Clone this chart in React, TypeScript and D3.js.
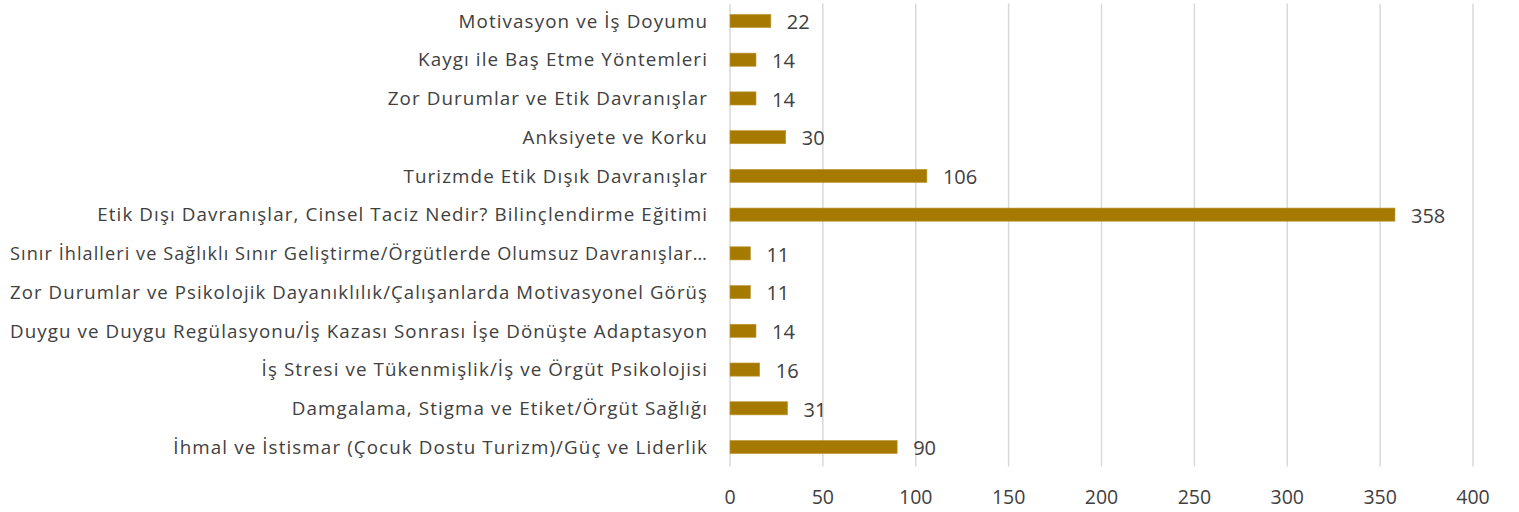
import React, { useLayoutEffect, useRef } from "react";
import * as d3 from "d3";

const categories: string[] = [
  "Motivasyon ve İş Doyumu",
  "Kaygı ile Baş Etme Yöntemleri",
  "Zor Durumlar ve Etik Davranışlar",
  "Anksiyete ve Korku",
  "Turizmde Etik Dışık Davranışlar",
  "Etik Dışı Davranışlar, Cinsel Taciz Nedir? Bilinçlendirme Eğitimi",
  "Sınır İhlalleri ve Sağlıklı Sınır Geliştirme/Örgütlerde Olumsuz Davranışlar…",
  "Zor Durumlar ve Psikolojik Dayanıklılık/Çalışanlarda Motivasyonel Görüş",
  "Duygu ve Duygu Regülasyonu/İş Kazası Sonrası İşe Dönüşte Adaptasyon",
  "İş Stresi ve Tükenmişlik/İş ve Örgüt Psikolojisi",
  "Damgalama, Stigma ve Etiket/Örgüt Sağlığı ",
  "İhmal ve İstismar (Çocuk Dostu Turizm)/Güç ve Liderlik",
];
const values: number[] = [22, 14, 14, 30, 106, 358, 11, 11, 14, 16, 31, 90];
const xTicks: number[] = [0, 50, 100, 150, 200, 250, 300, 350, 400];

export default function App() {
  const W = 1519, H = 512;
  const left = 730, right = 1473, top = 1.6, bottom = 466.4;
  const x = d3.scaleLinear().domain([0, 400]).range([left, right]);
  const y = d3.scaleBand<string>().domain(categories).range([top, bottom]).paddingInner(0.66).paddingOuter(0.33);
  const font = "'Open Sans', sans-serif";
  const txt = "#404040";
  const ref = useRef<SVGSVGElement>(null);
  const maxW = 698;
  useLayoutEffect(() => {
    if (!ref.current) return;
    d3.select(ref.current).selectAll<SVGTextElement, unknown>("text.cat").each(function () {
      const w = this.getComputedTextLength();
      if (w > maxW) {
        this.setAttribute("textLength", String(maxW));
        this.setAttribute("lengthAdjust", "spacingAndGlyphs");
      }
    });
  }, []);
  return (
    <svg ref={ref} width={W} height={H} style={{ position: "absolute", left: 0, top: 0 }} fontFamily={font}>
      <rect width={W} height={H} fill="#fff" />
      {xTicks.map((t) => (
        <line key={t} x1={x(t)} x2={x(t)} y1={top + 2} y2={bottom} stroke="#d9d9d9" strokeWidth={1.5} />
      ))}
      {categories.map((c, i) => (
        <g key={c}>
          <rect x={x(0)} y={y(c)!} width={x(values[i]) - x(0)} height={y.bandwidth()} fill="#a67a00" stroke="#c09a3a" strokeWidth={0.6} />
          <text className="cat" x={left - 22} y={y(c)! + y.bandwidth() / 2} dy="0.36em" textAnchor="end" fontSize={18.8} letterSpacing={1.1} fill={txt}>{c}</text>
          <text x={x(values[i]) + 16} y={y(c)! + y.bandwidth() / 2 + 1} dy="0.36em" fontSize={20} fill={txt}>{values[i]}</text>
        </g>
      ))}
      {xTicks.map((t) => (
        <text key={t} x={x(t)} y={497} dy="0.36em" textAnchor="middle" fontSize={19.5} fill={txt}>{t}</text>
      ))}
    </svg>
  );
}
